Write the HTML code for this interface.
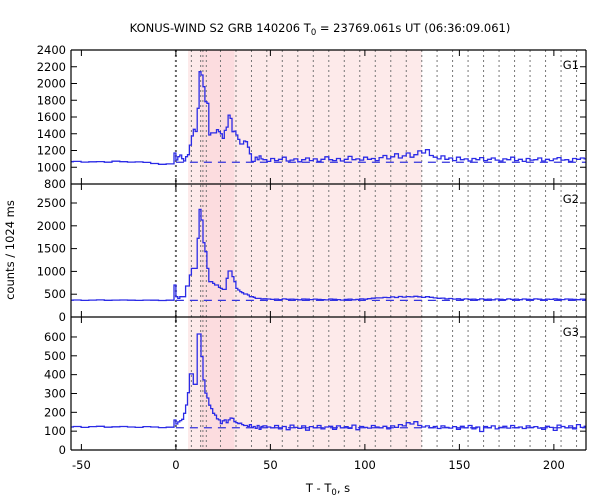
<!DOCTYPE html>
<html><head><meta charset="utf-8"><style>
body{margin:0;background:#fff;}
svg{display:block;font-family:"DejaVu Sans","Liberation Sans",sans-serif;}
</style></head><body>
<svg id="chart" width="600" height="500" viewBox="0 0 600 500">
<text x="320" y="32" text-anchor="middle" font-size="11.5">KONUS-WIND S2 GRB 140206 T<tspan font-size="8.5" dy="3">0</tspan><tspan dy="-3"> = 23769.061s UT (06:36:09.061)</tspan></text>
<text transform="translate(14,250) rotate(-90)" text-anchor="middle" font-size="11.5">counts / 1024 ms</text>
<text x="328" y="492" text-anchor="middle" font-size="11.5">T - T<tspan font-size="8.5" dy="3">0</tspan><tspan dy="-3">, s</tspan></text>
<g id="layer"></g>
</svg>
<script>
// ---- data ----
const xTicks = [-50, 0, 50, 100, 150, 200];
const intervalLines = [8.2, 13.1, 14.3, 16.1, 23.6, 31.8, 40, 48.1, 56.3, 64.5, 72.7, 80.9, 89.1, 97.3, 105.5, 113.7, 121.9, 130.1, 138.2, 146.4, 154.6, 162.8, 171, 179.2, 187.4, 195.6, 203.8, 212];
const lightRegion = [6.4, 130.1];
const darkRegion = [12.9, 30.9];
const panelNames = ["G1", "G2", "G3"];
const yMins = [800, 0, 0];
const yMaxs = [2400, 2917, 706];
const yTicksG1 = [800, 1000, 1200, 1400, 1600, 1800, 2000, 2200, 2400];
const yTicksG2 = [0, 500, 1000, 1500, 2000, 2500];
const yTicksG3 = [0, 100, 200, 300, 400, 500, 600];
const backgrounds = [1060, 365, 118];
// pre-burst bins: start -58.368 s, width 4.096 s
const preG1 = [1066, 1070, 1062, 1065, 1068, 1060, 1072, 1066, 1062, 1064, 1058, 1045, 1035, 1040];
const preG2 = [368, 372, 365, 370, 374, 366, 370, 372, 368, 365, 370, 368, 362, 368];
const preG3 = [122, 125, 120, 124, 126, 121, 123, 125, 122, 120, 124, 122, 119, 121];
// burst bins: start -1.024 s, width 1.024 s
const burstG1 = [1170,1087,1126,1146,1102,1075,1126,1150,1265,1373,1453,1427,1704,2141,2102,1962,1783,1763,1385,1410,1410,1410,1450,1425,1400,1345,1440,1480,1623,1583,1425,1430,1385,1333,1278,1278,1313,1305,1240,1160,1070,1070,1120,1090,1135,1100];
const burstG2 = [702,445,409,445,445,445,680,680,921,1067,1067,1067,1725,2360,2127,1630,1432,1067,775,775,738,702,702,650,628,606,606,848,1008,1008,885,775,628,592,555,533,504,504,482,445,445,431,409,409,409,395];
const burstG3 = [159,138,149,156,163,195,239,304,404,404,349,349,616,616,496,372,302,276,238,220,195,185,165,160,140,155,160,145,160,170,168,150,145,140,142,135,130,130,125,135,120,125,115,130,110,125];
// tail bins: start 46.08 s, width 2.048 s
const tailG1 = [1090,1070,1105,1080,1095,1120,1075,1085,1100,1065,1090,1110,1080,1100,1070,1095,1125,1090,1080,1105,1075,1095,1130,1090,1100,1085,1120,1095,1105,1080,1115,1140,1100,1125,1160,1110,1135,1170,1120,1150,1195,1170,1210,1140,1120,1100,1135,1095,1110,1080,1120,1090,1100,1075,1105,1090,1115,1080,1095,1110,1085,1075,1100,1090,1120,1080,1095,1070,1105,1085,1090,1110,1075,1095,1080,1100,1115,1085,1090,1070,1105,1095,1110,1100];
const tailG2 = [400,395,385,392,380,398,388,392,385,378,395,390,382,392,386,380,376,395,388,382,370,385,392,378,386,398,390,402,412,420,418,430,425,440,428,450,436,448,440,455,442,430,445,432,420,410,415,398,405,392,400,385,396,388,392,380,398,386,390,378,395,388,382,396,386,392,380,395,388,384,396,390,378,392,385,396,388,382,395,390,386,380,392,388];
const tailG3 = [128,122,118,130,112,125,108,132,120,115,128,105,124,118,130,112,122,126,110,128,118,124,115,132,108,125,120,116,130,122,118,126,112,128,120,135,128,145,138,150,130,122,128,118,125,114,128,120,116,124,110,126,118,130,112,122,98,125,118,128,112,120,126,116,130,118,122,114,128,120,124,116,110,126,120,104,132,125,118,128,112,135,120,126];

// ---- layout ----
const L = 71, R = 586;
const panelTops = [50, 184, 317];
const panelBots = [184, 317, 450];
const tMin = -55.5, tMax = 217;
function xs(t){ return L + (t - tMin) / (tMax - tMin) * (R - L); }
function ysFor(i){ return v => panelBots[i] - (v - yMins[i]) / (yMaxs[i] - yMins[i]) * (panelBots[i] - panelTops[i]); }

const NS = "http://www.w3.org/2000/svg";
const layer = document.getElementById("layer");
function mk(tag, attrs, parent){ const el = document.createElementNS(NS, tag); for (const k in attrs) el.setAttribute(k, attrs[k]); (parent||layer).appendChild(el); return el; }

const plotTop = panelTops[0], plotBot = panelBots[2];
let shade = mk("rect", {x: xs(lightRegion[0]), y: plotTop, width: xs(lightRegion[1]) - xs(lightRegion[0]), height: plotBot - plotTop, fill: "#fdeaea"});


shade = mk("rect", {x: xs(darkRegion[0]), y: plotTop, width: xs(darkRegion[1]) - xs(darkRegion[0]), height: plotBot - plotTop, fill: "#fcdcdf"});



const zl = mk("line", {x1: xs(0), x2: xs(0), y1: plotTop, y2: plotBot, stroke: "#666", "stroke-width": 2, "stroke-dasharray": "2,3"});


intervalLines.forEach(t => {
  const l = mk("line", {x1: xs(t), x2: xs(t), y1: plotTop, y2: plotBot, stroke: "#777", "stroke-width": 1, "stroke-dasharray": "2,3"});
  
  
});

const pres = [preG1, preG2, preG3], bursts = [burstG1, burstG2, burstG3], tails = [tailG1, tailG2, tailG3];
const yTickSets = [yTicksG1, yTicksG2, yTicksG3];

for (let i = 0; i < 3; i++) {
  const ys = ysFor(i);
  const g = mk("g", {});
  
  
  const bl = mk("line", {x1: xs(0), x2: R, y1: ys(backgrounds[i]), y2: ys(backgrounds[i]), stroke: "#3333dd", "stroke-width": 1.2, "stroke-dasharray": "8,6"}, g);
  
  
  const segs = [[-58.368, 4.096, pres[i]], [-1.024, 1.024, bursts[i]], [46.08, 2.048, tails[i]]];
  let d = "";
  segs.forEach(([s, w, vals]) => {
    vals.forEach((v, k) => {
      const x0 = Math.max(xs(s + k * w), L), x1 = Math.min(xs(s + (k + 1) * w), R);
      if (x1 <= L || x0 >= R) return;
      const y = ys(v).toFixed(1);
      d += (d ? "L" : "M") + x0.toFixed(1) + "," + y + "L" + x1.toFixed(1) + "," + y;
    });
  });
  const p = mk("path", {d: d, fill: "none", stroke: "#2b2be6", "stroke-width": 1.3}, g);
  
  
  yTickSets[i].forEach(v => {
    const y = ys(v);
    mk("line", {x1: L, x2: L + 6, y1: y, y2: y, stroke: "#000"}, g);
    mk("line", {x1: R - 6, x2: R, y1: y, y2: y, stroke: "#000"}, g);
    const tx = mk("text", {x: L - 5, y: y + 4, "text-anchor": "end", "font-size": 11.5}, g);
    tx.textContent = v;
    
    
  });
  xTicks.forEach(t => {
    const x = xs(t);
    mk("line", {x1: x, x2: x, y1: panelTops[i], y2: panelTops[i] + 6, stroke: "#000"}, g);
    mk("line", {x1: x, x2: x, y1: panelBots[i] - 6, y2: panelBots[i], stroke: "#000"}, g);
  });
  const lb = mk("text", {x: 579, y: panelTops[i] + 19, "text-anchor": "end", "font-size": 11.5}, g);
  lb.textContent = panelNames[i];
  
  
}
[50, 184, 317, 450].forEach(y => mk("line", {x1: L, x2: R, y1: y, y2: y, stroke: "#000", "stroke-width": 1.2}));
mk("line", {x1: L, x2: L, y1: 50, y2: 450, stroke: "#000", "stroke-width": 1.2});
mk("line", {x1: R, x2: R, y1: 50, y2: 450, stroke: "#000", "stroke-width": 1.2});
xTicks.forEach(t => {
  const tx = mk("text", {x: xs(t), y: 469, "text-anchor": "middle", "font-size": 11.5});
  tx.textContent = t;
  
  
});
</script>
</body></html>
